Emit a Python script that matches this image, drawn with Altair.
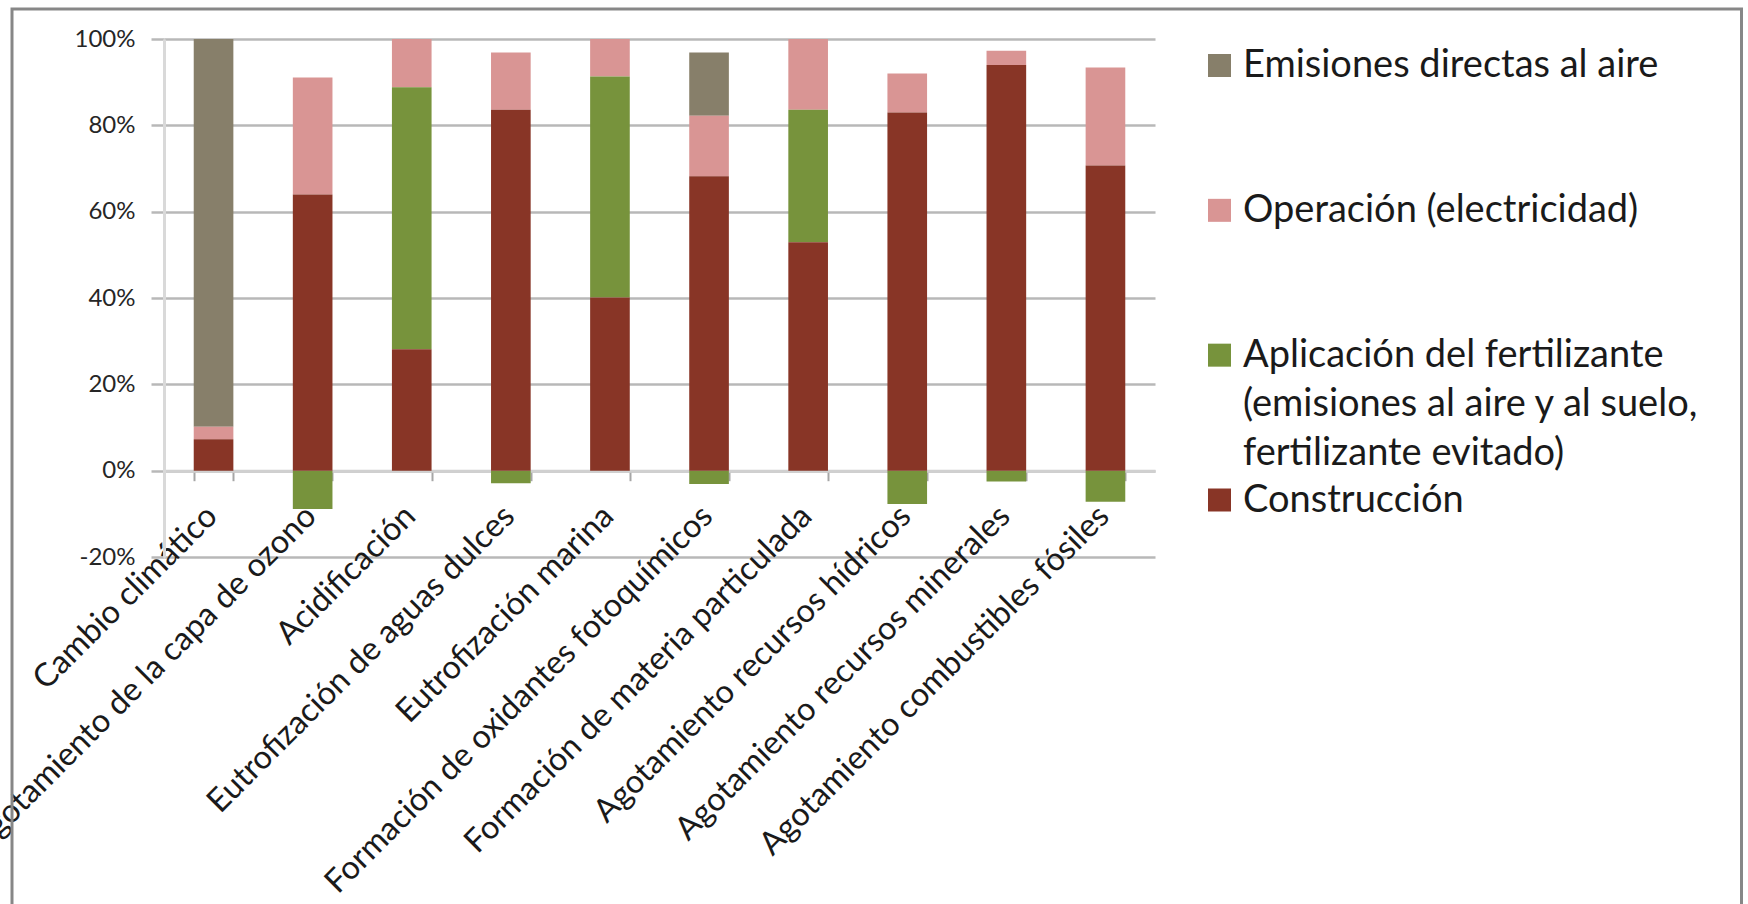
import altair as alt
import pandas as pd

categorias = [
    "Cambio climático",
    "Agotamiento de la capa de ozono",
    "Acidificación",
    "Eutrofización de aguas dulces",
    "Eutrofización marina",
    "Formación de oxidantes fotoquímicos",
    "Formación de materia particulada",
    "Agotamiento recursos hídricos",
    "Agotamiento recursos minerales",
    "Agotamiento combustibles fósiles",
]

series = [
    "Emisiones directas al aire",
    "Operación (electricidad)",
    "Aplicación del fertilizante (emisiones al aire y al suelo, fertilizante evitado)",
    "Construcción",
]
legend_text = [
    "Emisiones directas al aire",
    "Operación (electricidad)",
    "Aplicación del fertilizante\n(emisiones al aire y al suelo,\nfertilizante evitado)",
    "Construcción",
]
colores = ["#877F6A", "#D99594", "#77933C", "#883526"]

# values in % per category
emisiones = [89.8, 0, 0, 0, 0, 14.7, 0, 0, 0, 0]
operacion = [2.9, 27.1, 11.2, 13.3, 8.7, 14.0, 16.4, 9.0, 3.3, 22.7]
aplicacion = [0, -8.9, 60.7, -2.9, 51.2, -3.1, 30.7, -7.7, -2.5, -7.2]
construccion = [7.3, 64.0, 28.1, 83.6, 40.1, 68.2, 52.9, 83.0, 94.0, 70.7]

y_ticks = [-20, 0, 20, 40, 60, 80, 100]

valores = [emisiones, operacion, aplicacion, construccion]
stack_rank = [3, 2, 1, 0]

rows = []
for s_i, s in enumerate(series):
    for c_i, c in enumerate(categorias):
        rows.append({"categoria": c, "serie": s, "valor": valores[s_i][c_i], "rank": stack_rank[s_i]})
df = pd.DataFrame(rows)

leg_df = pd.DataFrame({"serie": series, "texto": legend_text})

color_scale = alt.Scale(domain=series, range=colores)
txt = "#1a1a1a"
grid_c = "#b8b8b8"

bars = alt.Chart(df).mark_bar().encode(
    x=alt.X(
        "categoria:N",
        sort=categorias,
        scale=alt.Scale(paddingInner=0.6, paddingOuter=0.3),
        axis=alt.Axis(
            title=None,
            labelAngle=-45,
            labelAlign="right",
            labelBaseline="alphabetic",
            labelFontSize=32.5,
            labelFont="Lato",
            labelColor=txt,
            labelPadding=37,
            labelOffset=5,
            labelLimit=2000,
            labelOverlap=False,
            tickBand="extent",
            tickSize=10,
            tickColor="#a6a6a6",
            tickWidth=2,
            domainColor="#d0d0d0",
            domainWidth=3,
            offset=-86.3,
            grid=False,
        ),
    ),
    y=alt.Y(
        "valor:Q",
        stack="zero",
        scale=alt.Scale(domain=[-20, 100], nice=False),
        axis=alt.Axis(
            title=None,
            values=y_ticks,
            labelExpr="datum.value + '%'",
            labelFontSize=24,
            labelFont="Lato",
            labelColor="#262626",
            labelPadding=16,
            tickSize=13,
            tickColor=grid_c,
            tickWidth=2.5,
            grid=True,
            gridColor=grid_c,
            gridWidth=2.5,
            domainColor="#d9d9d9",
            domainWidth=3,
        ),
    ),
    color=alt.Color("serie:N", scale=color_scale, legend=None),
    order=alt.Order("rank:Q"),
)

leg_y = alt.Y("serie:N", sort=series, scale=alt.Scale(type="point", range=[26.5, 461], padding=0), axis=None)

squares = alt.Chart(leg_df).mark_square(size=529, opacity=1).encode(
    x=alt.value(1055.5),
    y=leg_y,
    color=alt.Color("serie:N", scale=color_scale, legend=None),
)

texts = alt.Chart(leg_df).mark_text(
    align="left", baseline="alphabetic", dy=11.5, fontSize=38, lineBreak="\n",
    lineHeight=49, font="Lato", color=txt,
).encode(
    x=alt.value(1079),
    y=leg_y,
    text="texto:N",
)

frame = alt.Chart(pd.DataFrame({"k": [0]})).mark_rect(
    filled=False, stroke="#878787", strokeWidth=3
).encode(
    x=alt.value(-152), x2=alt.value(1577.5), y=alt.value(-30), y2=alt.value(880)
)

chart = alt.layer(frame, bars, squares, texts).resolve_scale(y="independent").properties(
    width=991,
    height=518,
    autosize=alt.AutoSizeParams(type="none"),
    padding={"left": 164, "top": 39, "right": 593, "bottom": 347},
    background="white",
).configure_view(stroke=None)

chart.save("out.html", embed_options={"renderer": "svg", "actions": False})
